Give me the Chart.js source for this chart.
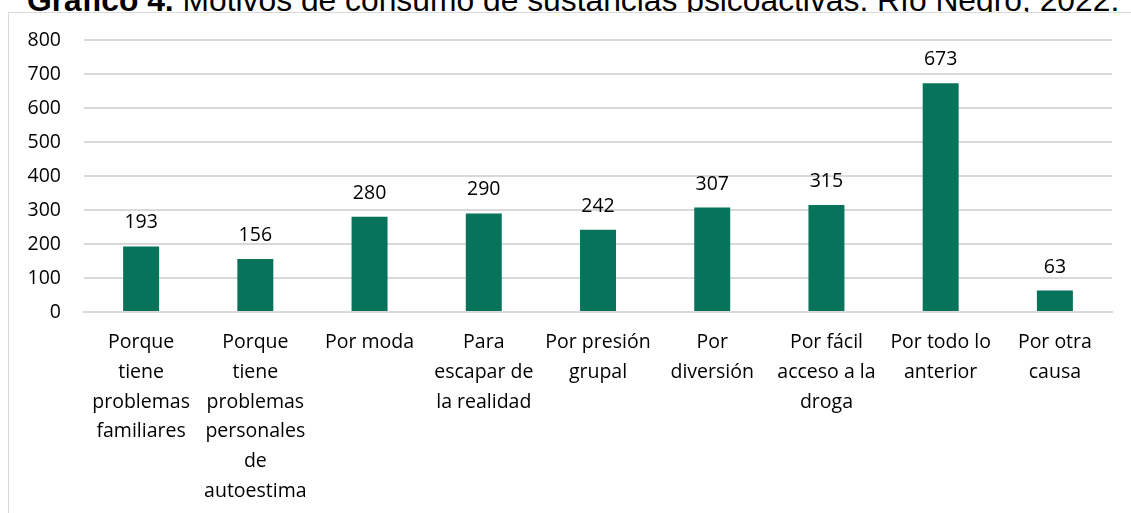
<!DOCTYPE html>
<html>
<head>
<meta charset="utf-8">
<script src="https://cdn.jsdelivr.net/npm/chart.js@4"></script>
<style>
  html, body { margin: 0; padding: 0; background: #fff; overflow: hidden; }
  body { width: 1131px; height: 513px; position: relative; }
  #title {
    position: absolute; left: 27px; top: -16px;
    font: 31.8px/32px "Liberation Sans", Arial, sans-serif;
    white-space: nowrap; color: #000; z-index: 1;
  }
  #frame {
    position: absolute; left: 8px; top: 12px; width: 1140px; height: 520px;
    border: 1px solid #d9d9d9; background: #fff; z-index: 2;
  }
  #wrap { position: absolute; left: 0; top: 0; width: 1131px; height: 513px; z-index: 3; }
</style>
</head>
<body>
<div id="title"><b>Gráfico 4.</b> Motivos de consumo de sustancias psicoactivas. Río Negro, 2022.</div>
<div id="frame"></div>
<div id="wrap"><canvas id="myChart"></canvas></div>
<script>
const motivos = [
    ['Porque', 'tiene', 'problemas', 'familiares'],
    ['Porque', 'tiene', 'problemas', 'personales', 'de', 'autoestima'],
    ['Por moda'],
    ['Para', 'escapar de', 'la realidad'],
    ['Por presión', 'grupal'],
    ['Por', 'diversión'],
    ['Por fácil', 'acceso a la', 'droga'],
    ['Por todo lo', 'anterior'],
    ['Por otra', 'causa']
];
const casos = [193, 156, 280, 290, 242, 307, 315, 673, 63];

const labelFont = '"Open Sans", Lato, sans-serif';

// values on top of each bar
const valueLabels = {
    id: 'valueLabels',
    afterDatasetsDraw(chart) {
        const ctx = chart.ctx;
        const meta = chart.getDatasetMeta(0);
        ctx.save();
        ctx.font = '19.5px ' + labelFont;
        ctx.fillStyle = '#000';
        ctx.textAlign = 'center';
        ctx.textBaseline = 'alphabetic';
        meta.data.forEach((bar, i) => {
            ctx.fillText(casos[i], bar.x, bar.y - 18);
        });
        ctx.restore();
    }
};

const ctx = document.getElementById('myChart').getContext('2d');
new Chart(ctx, {
    type: 'bar',
    data: {
        labels: motivos,
        datasets: [
            {
                label: 'Casos',
                backgroundColor: '#07735a',
                data: casos,
                barPercentage: 0.315,
                categoryPercentage: 1
            }
        ]
    },
    options: {
        responsive: true,
        maintainAspectRatio: false,
        animation: false,
        layout: { padding: { top: 40, right: 19, left: 0, bottom: 0 } },
        plugins: {
            legend: { display: false },
            tooltip: { enabled: false }
        },
        scales: {
            x: {
                grid: { display: false, drawTicks: false },
                border: { color: '#d9d9d9', width: 2 },
                ticks: {
                    color: '#000',
                    font: { family: labelFont, size: 19.5, lineHeight: 1.52 },
                    padding: 16,
                    maxRotation: 0,
                    autoSkip: false
                },
                afterFit: scale => { scale.height = 201; }
            },
            y: {
                min: 0,
                max: 800,
                grid: { color: '#d9d9d9', lineWidth: 2, drawTicks: false },
                border: { display: false },
                ticks: {
                    stepSize: 100,
                    color: '#000',
                    font: { family: labelFont, size: 19.5 },
                    padding: 23
                },
                afterFit: scale => { scale.width = 84; }
            }
        }
    },
    plugins: [valueLabels]
});
</script>
</body>
</html>
